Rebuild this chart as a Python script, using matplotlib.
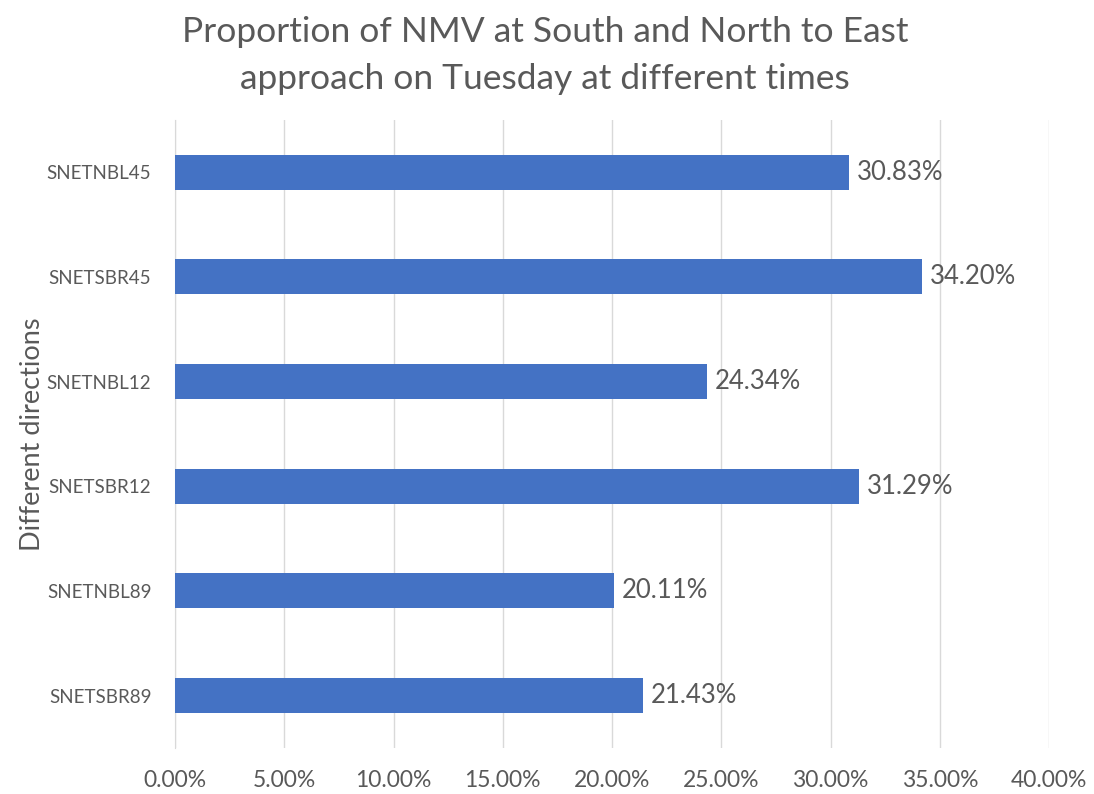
import matplotlib
matplotlib.use("Agg")
import matplotlib.pyplot as plt
from matplotlib.ticker import FuncFormatter

# Directions listed top to bottom
directions = ["SNETNBL45", "SNETSBR45", "SNETNBL12", "SNETSBR12", "SNETNBL89", "SNETSBR89"]
nmv_share = [30.83, 34.20, 24.34, 31.29, 20.11, 21.43]
x_ticks = [0, 5, 10, 15, 20, 25, 30, 35, 40]

BAR_COLOR = "#4472C4"
TEXT_COLOR = "#595959"
GRID_COLOR = "#D9D9D9"

plt.rcParams["font.family"] = ["Lato", "DejaVu Sans"]

fig = plt.figure(figsize=(10.94, 7.94), dpi=100)
ax = fig.add_axes([0.16, 0.058, 0.799, 0.791])

ypos = list(range(len(directions)))[::-1]
ax.barh(ypos, nmv_share, height=0.335, color=BAR_COLOR, zorder=3)

for y, v in zip(ypos, nmv_share):
    ax.text(v + 0.35, y, f"{v:.2f}%", va="center", ha="left",
            fontsize=18.5, color=TEXT_COLOR)

ax.set_xlim(0, 40)
ax.set_ylim(-0.5, len(directions) - 0.5)
ax.set_xticks(x_ticks)
ax.xaxis.set_major_formatter(FuncFormatter(lambda v, _: f"{v:.2f}%"))
ax.set_yticks(ypos)
ax.set_yticklabels(directions, fontsize=13.5)

ax.grid(axis="x", color=GRID_COLOR, linewidth=1, zorder=0)
ax.set_axisbelow(True)
for s in ax.spines.values():
    s.set_visible(False)
ax.spines["left"].set_visible(True)
ax.spines["left"].set_color(GRID_COLOR)
ax.tick_params(axis="both", length=0, colors=TEXT_COLOR)
ax.tick_params(axis="x", labelsize=16.5, pad=16)
ax.tick_params(axis="y", pad=17)

ax.set_ylabel("Different directions", fontsize=19.5, color=TEXT_COLOR, labelpad=1)

fig.suptitle("Proportion of NMV at South and North to East\napproach on Tuesday at different times",
             x=0.498, y=0.98, fontsize=25.5, color=TEXT_COLOR, linespacing=1.58)

fig.savefig("out.png", dpi=100)
